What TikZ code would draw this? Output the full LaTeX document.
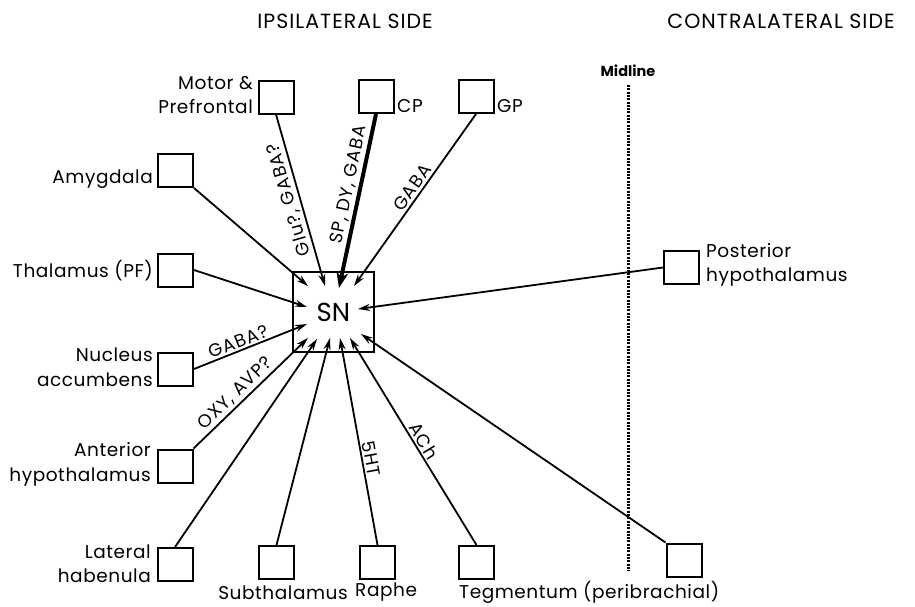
\documentclass[tikz,border=0pt]{standalone}
\usepackage{fontspec}
\setmainfont{Poppins}
\usetikzlibrary{arrows.meta}
\begin{document}
\begin{tikzpicture}[x=1pt,y=-1pt,
 sbox/.style={draw, line width=2pt, minimum width=35pt, minimum height=33pt, inner sep=0pt},
 lbl/.style={font=\fontsize{18.5}{24.5}\selectfont\addfontfeatures{LetterSpace=3}, inner sep=0pt},
 elab/.style={font=\fontsize{18}{20}\selectfont\addfontfeatures{LetterSpace=6}, inner sep=2pt},
 hdr/.style={font=\fontsize{20.5}{22}\selectfont\addfontfeatures{LetterSpace=5}, inner sep=0pt},
 arr/.style={line width=1.8pt, -{Stealth[length=12pt,width=7pt]}},
 rarr/.style={line width=1.8pt, {Stealth[length=12pt,width=7pt]}-},
 rthick/.style={line width=4pt, {Stealth[length=16pt,width=12pt]}-},
]
\useasboundingbox (0,0) rectangle (915,606);

% headers
\node[hdr] (hipsi) at (345,21) {IPSILATERAL SIDE};
\node[hdr] (hcontra) at (781,21) {CONTRALATERAL SIDE};

% midline
\node[font=\fontsize{14.5}{16}\selectfont\bfseries, inner sep=0pt] (mlab) at (628,71) {Midline};
\coordinate (mtop) at (628,85);
\coordinate (mbot) at (628,571);
\draw[line width=3pt, dash pattern=on 2pt off 1.3pt] (mtop) -- (mbot);

% SN
\node[draw, line width=2.2pt, minimum width=81pt, minimum height=80pt, inner sep=0pt,
      font=\fontsize{26}{28}\selectfont] (sn) at (333.5,312) {SN};

% boxes
\node[sbox] (motor) at (276,97) {};
\node[sbox] (cp) at (376,96.5) {};
\node[sbox] (gp) at (476,96.5) {};
\node[sbox] (amyg) at (175.5,170.5) {};
\node[sbox] (thal) at (175.5,270) {};
\node[sbox] (nacc) at (175.5,369) {};
\node[sbox] (anth) at (175,466) {};
\node[sbox] (lath) at (175,564.5) {};
\node[sbox] (subth) at (276.5,562.5) {};
\node[sbox] (raphe) at (377.5,562.5) {};
\node[sbox] (tegm) at (476.5,562.5) {};
\node[sbox] (perib) at (684,560) {};
\node[sbox] (posth) at (681.5,267.5) {};

% labels
\node[lbl, align=right, anchor=east] (lmotor) at (253,95) {Motor \&\\Prefrontal};
\node[lbl, anchor=west] (lcp) at (397,106) {CP};
\node[lbl, anchor=west] (lgp) at (497,106) {GP};
\node[lbl, anchor=east] (lamyg) at (153,179) {Amygdala};
\node[lbl, anchor=east] (lthal) at (153,271) {Thalamus (PF)};
\node[lbl, align=right, anchor=east] (lnacc) at (153,367) {Nucleus\\accumbens};
\node[lbl, align=right, anchor=east] (lanth) at (151,464.5) {Anterior\\hypothalamus};
\node[lbl, align=right, anchor=east] (llath) at (151,563.5) {Lateral\\habenula};
\node[lbl, align=left, anchor=west] (lposth) at (706,265) {Posterior\\hypothalamus};
\node[lbl] (lsubth) at (283,592.5) {Subthalamus};
\node[lbl, anchor=west] (lraphe) at (355,592.5) {Raphe};
\node[lbl, anchor=west] (ltegm) at (459,592.5) {Tegmentum (peribrachial)};

% arrow tips inside SN
\coordinate (tA) at (308,286);
\coordinate (tM) at (325,286);
\coordinate (tC) at (339,288);
\coordinate (tG) at (354,286);
\coordinate (tT) at (307,307);
\coordinate (tP) at (358,309);
\coordinate (tN) at (307,324);
\coordinate (tH) at (308,338);
\coordinate (tL) at (317,339);
\coordinate (tS) at (330,338);
\coordinate (tR) at (340,338);
\coordinate (tE) at (350,338);
\coordinate (tB) at (361,334);

% connectors
\draw[arr] (amyg.south east) -- (tA);
\draw[rarr] (tM) -- node[elab, sloped, allow upside down, above, pos=0.52] {Glu?, GABA?} (motor.south);
\draw[rthick] (tC) -- node[elab, sloped, above, pos=0.58] {SP, DY, GABA} (cp.south);
\draw[rarr] (tG) -- node[elab, sloped, above, pos=0.54] {GABA} (gp.south);
\draw[arr] (thal.east) -- (tT);
\draw[arr] (posth.west) -- (tP);
\draw[arr] (nacc.east) -- node[elab, sloped, above, pos=0.42] {GABA?} (tN);
\draw[arr] (anth.north east) -- node[elab, sloped, above, pos=0.43] {OXY, AVP?} (tH);
\draw[arr] (lath.north) -- (tL);
\draw[arr] (subth.north) -- (tS);
\draw[rarr] (tR) -- node[elab, sloped, above, pos=0.59] {5HT} (raphe.north);
\draw[rarr] (tE) -- node[elab, sloped, above, pos=0.52] {ACh} (tegm.north);
\draw[arr] (perib.north west) -- (tB);
\end{tikzpicture}
\end{document}
